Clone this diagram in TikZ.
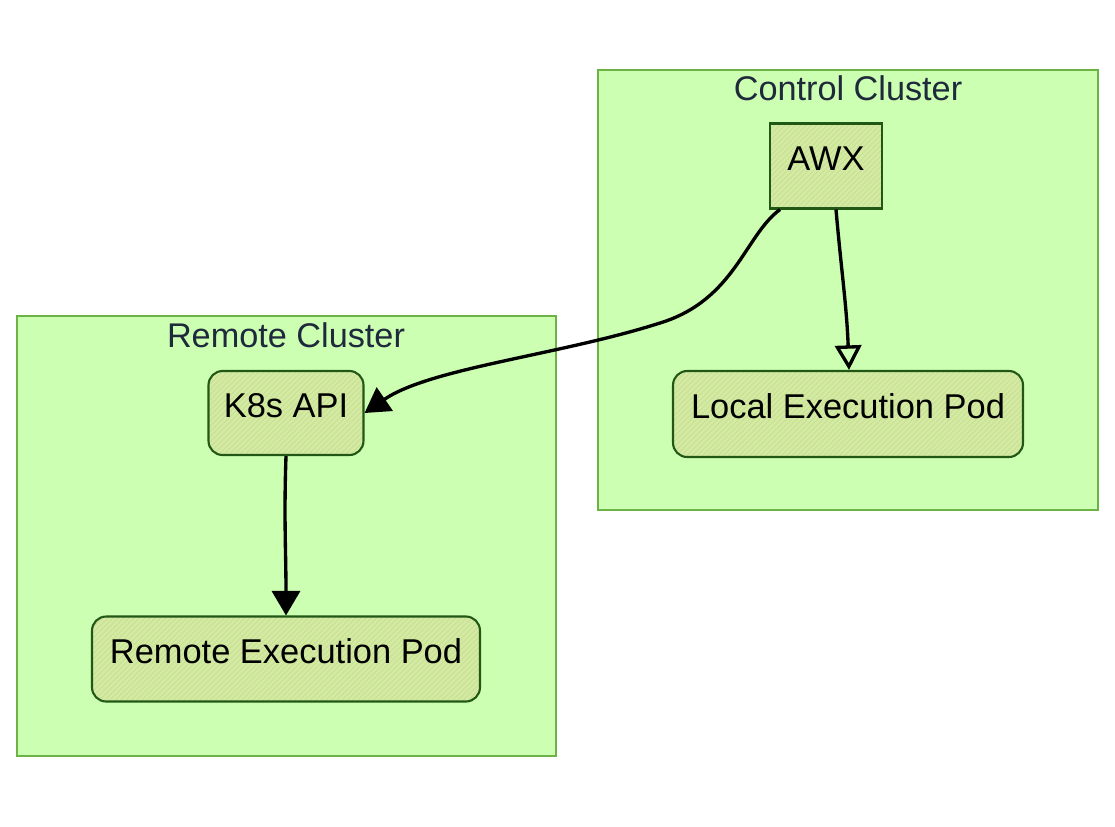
\documentclass[tikz,border=0pt]{standalone}
\usepackage{fontspec}
\setmainfont{Liberation Sans}
\usepackage{tikz}
\usetikzlibrary{arrows.meta,patterns}

\definecolor{clusterFill}{RGB}{205,255,178}
\definecolor{clusterLine}{RGB}{108,178,68}
\definecolor{boxFill}{RGB}{212,234,162}
\definecolor{boxHatch}{RGB}{196,222,146}
\definecolor{boxLine}{RGB}{34,88,22}
\definecolor{titleColor}{RGB}{30,41,59}

\tikzset{
  cluster/.style={draw=clusterLine, fill=clusterFill, line width=1.6pt},
  clustertitle/.style={text=titleColor, font=\fontsize{19.5}{23}\selectfont, inner sep=0pt},
  podbox/.style={draw=boxLine, line width=1.2pt, preaction={fill=boxFill},
    pattern=north east lines, pattern color=boxHatch,
    font=\fontsize{19.6}{23}\selectfont, inner sep=0pt, rounded corners=8pt,
    text height=0.5cm, text depth=0.33cm},
  flow/.style={line width=1.9pt, -{Triangle[length=14pt,width=16pt]}},
  flowopen/.style={line width=1.9pt, -{Triangle[open,length=14pt,width=15pt]}}
}

\begin{document}
\begin{tikzpicture}[x=0.02cm,y=-0.02cm]
\useasboundingbox (0,0) rectangle (1115,826);
\draw[cluster] (598,70) rectangle (1098,510);
\node[clustertitle] (ctitle) at (848,88) {Control Cluster};
\draw[cluster] (17,316) rectangle (556,756);
\node[clustertitle] (rtitle) at (286,335) {Remote Cluster};
\node[podbox, rounded corners=0pt, minimum width=2.24cm, minimum height=1.7cm] (awx) at (826,166) {AWX};
\node[podbox, minimum width=7cm, minimum height=1.72cm] (localpod) at (848,414) {Local Execution Pod};
\node[podbox, minimum width=3.1cm, minimum height=1.68cm] (k8s) at (286,413) {K8s API};
\node[podbox, minimum width=7.76cm, minimum height=1.7cm] (remotepod) at (286,659) {Remote Execution Pod};
\draw[flowopen] ([xshift=0.2cm]awx.south) to[out=-85,in=92] ([xshift=0.02cm]localpod.north);
\draw[flow] ([xshift=-0.92cm]awx.south) .. controls (745,235) and (735,300) .. (660,323)
  .. controls (560,355) and (430,368) .. (k8s.east);
\draw[flow] (k8s.south) to[out=-92,in=90] (remotepod.north);
\end{tikzpicture}
\end{document}
